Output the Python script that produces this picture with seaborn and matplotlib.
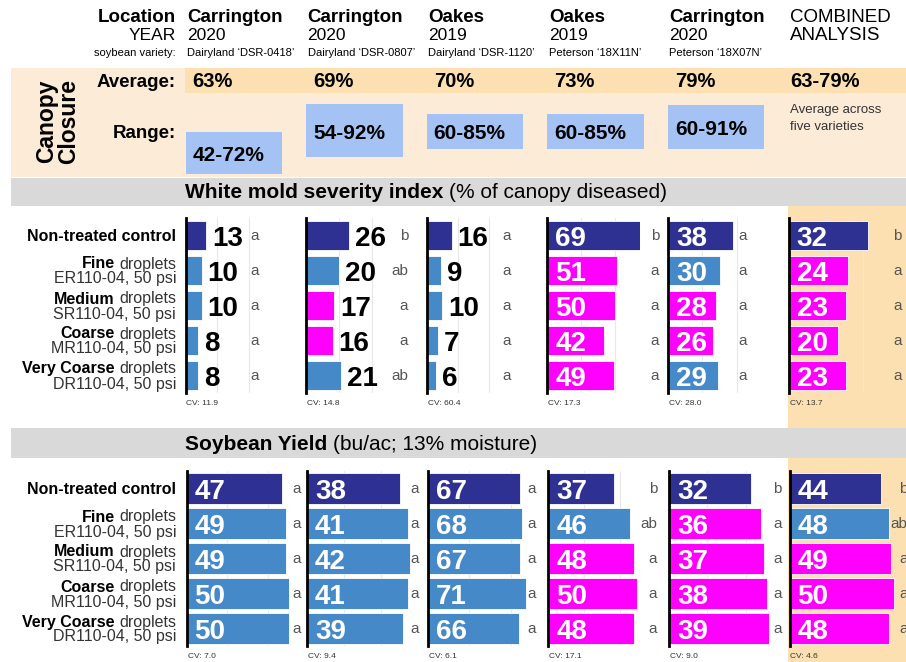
import matplotlib
matplotlib.use("Agg")
import matplotlib.pyplot as plt
import seaborn as sns
import pandas as pd
import numpy as np
from matplotlib.patches import Rectangle
from matplotlib.ticker import MaxNLocator

sns.set_theme(style="white")
plt.rcParams['font.family'] = ['Liberation Sans', 'DejaVu Sans']
plt.rcParams['text.color'] = 'black'

W, H = 906, 662

# ---------------- data ----------------
locations = ["Carrington", "Carrington", "Oakes", "Oakes", "Carrington"]
years = ["2020", "2020", "2019", "2019", "2020"]
varieties = ["Dairyland \u2018DSR-0418\u2019", "Dairyland \u2018DSR-0807\u2019",
             "Dairyland \u2018DSR-1120\u2019", "Peterson \u201818X11N\u2019",
             "Peterson \u201818X07N\u2019"]
canopy_avg = [63, 69, 70, 73, 79]
canopy_lo = [42, 54, 60, 60, 60]
canopy_hi = [72, 92, 85, 85, 91]
combined_canopy = "63-79%"

treat_main = ["Non-treated control", "Fine", "Medium", "Coarse", "Very Coarse"]
treat_nozzle = ["", "ER110-04, 50 psi", "SR110-04, 50 psi", "MR110-04, 50 psi", "DR110-04, 50 psi"]

# white mold severity index (6 panels: 5 sites + combined)
mold_values = [[13, 10, 10, 8, 8], [26, 20, 17, 16, 21], [16, 9, 10, 7, 6],
               [69, 51, 50, 42, 49], [38, 30, 28, 26, 29], [32, 24, 23, 20, 23]]
mold_letters = [["a", "a", "a", "a", "a"], ["b", "ab", "a", "a", "ab"], ["a", "a", "a", "a", "a"],
                ["b", "a", "a", "a", "a"], ["a", "a", "a", "a", "a"], ["b", "a", "a", "a", "a"]]
mold_colors = [["N", "B", "B", "B", "B"], ["N", "B", "M", "M", "B"], ["N", "B", "B", "B", "B"],
               ["N", "M", "M", "M", "M"], ["N", "B", "M", "M", "B"], ["N", "M", "M", "M", "M"]]
mold_cv = ["11.9", "14.8", "60.4", "17.3", "28.0", "13.7"]

# soybean yield
yield_values = [[47, 49, 49, 50, 50], [38, 41, 42, 41, 39], [67, 68, 67, 71, 66],
                [37, 46, 48, 50, 48], [32, 36, 37, 38, 39], [44, 48, 49, 50, 48]]
yield_letters = [["a", "a", "a", "a", "a"], ["a", "a", "a", "a", "a"], ["a", "a", "a", "a", "a"],
                 ["b", "ab", "a", "a", "a"], ["b", "a", "a", "a", "a"], ["b", "ab", "a", "a", "a"]]
yield_colors = [["N", "B", "B", "B", "B"], ["N", "B", "B", "B", "B"], ["N", "B", "B", "B", "B"],
                ["N", "B", "M", "M", "M"], ["N", "M", "M", "M", "M"], ["N", "B", "M", "M", "M"]]
yield_cv = ["7.0", "9.4", "6.1", "17.1", "9.0", "4.6"]

# ---------------- style / layout ----------------
color_map = {"N": "#2E3192", "B": "#4589C8", "M": "#FF00FF"}
BEIGE = "#FCEBD6"
ORANGE = "#FCE0B2"
GRAY = "#D9D9D9"
RANGE_BLUE = "#A4C2F4"
TXT_GRAY = "#333333"

COL0, COLW = 185.5, 120.6
mold_scale = [1.6, 1.65, 1.56, 1.36, 1.72, 2.48]
yield_scale = [2.04, 2.45, 1.38, 1.78, 2.57, 2.08]
mold_inside = [False, False, False, True, True, True]
mold_let_off = [73, 102, 84, 112, 79, 113]
yield_let_off = [114, 112, 108, 109, 113, 118]

fig = plt.figure(figsize=(W / 100, H / 100), dpi=100)
fig.patch.set_facecolor("white")
bg = fig.add_axes([0, 0, 1, 1])
bg.set_xlim(0, W)
bg.set_ylim(H, 0)
bg.axis("off")
renderer = fig.canvas.get_renderer()


def fig_rect(x0, y0, x1, y1):
    return [x0 / W, 1 - y1 / H, (x1 - x0) / W, (y1 - y0) / H]


def rect(x0, y0, x1, y1, c):
    bg.add_patch(Rectangle((x0, y0), x1 - x0, y1 - y0, facecolor=c, lw=0, zorder=0))


def colx(i):
    return COL0 + i * COLW


# backgrounds
rect(11, 68, W, 177, BEIGE)
rect(185, 68, W, 92.5, ORANGE)
rect(11, 178, W, 206, GRAY)
rect(788, 206, W, 428, ORANGE)
rect(788, 458, W, H, ORANGE)
rect(11, 428, W, 458, GRAY)

# header
bg.text(176, 22, "Location", ha="right", va="baseline", fontsize=13.5, weight="bold")
bg.text(176, 40, "YEAR", ha="right", va="baseline", fontsize=12.5)
bg.text(176, 56, "soybean variety:", ha="right", va="baseline", fontsize=8)
for i in range(5):
    x = colx(i) + 1.5
    bg.text(x, 22, locations[i], ha="left", va="baseline", fontsize=13.5, weight="bold")
    bg.text(x, 40, years[i], ha="left", va="baseline", fontsize=12.5)
    bg.text(x, 56, varieties[i], ha="left", va="baseline", fontsize=8)
bg.text(colx(5) + 1.5, 22, "COMBINED", ha="left", va="baseline", fontsize=13.5)
bg.text(colx(5) + 1.5, 40, "ANALYSIS", ha="left", va="baseline", fontsize=13.5)

# canopy closure
bg.text(58, 121, "Canopy\nClosure", rotation=90, ha="center", va="center",
        fontsize=16.5, weight="bold", linespacing=0.95, multialignment="center")
bg.text(176, 87, "Average:", ha="right", va="baseline", fontsize=13.5, weight="bold")
bg.text(176, 138, "Range:", ha="right", va="baseline", fontsize=13.5, weight="bold")
for i in range(5):
    bg.text(colx(i) + 7, 87, f"{canopy_avg[i]}%", ha="left", va="baseline",
            fontsize=14.5, weight="bold")
bg.text(colx(5) + 1.5, 87, combined_canopy, ha="left", va="baseline", fontsize=14.5, weight="bold")
bg.text(colx(5) + 1.5, 113, "Average across", ha="left", va="baseline", fontsize=9.5, color=TXT_GRAY)
bg.text(colx(5) + 1.5, 130, "five varieties", ha="left", va="baseline", fontsize=9.5, color=TXT_GRAY)

axc = fig.add_axes(fig_rect(COL0, 92.8, COL0 + 6 * COLW, 176.8))
lo = np.array(canopy_lo)
hi = np.array(canopy_hi)
axc.bar(np.arange(5), hi - lo, bottom=lo, width=0.8, align="edge", color=RANGE_BLUE, lw=0)
axc.set_xlim(0, 6)
axc.set_ylim(39.9, 100)
axc.axis("off")
for i in range(5):
    mid = (lo[i] + hi[i]) / 2
    axc.text(i + 7 / COLW, mid - 8 / 1.4, f"{lo[i]}-{hi[i]}%", ha="left", va="baseline",
             fontsize=15, weight="bold")


# section titles (bold + regular)
def title_mixed(x, y, bold, regular, size):
    t = bg.text(x, y, bold, ha="left", va="baseline", fontsize=size, weight="bold")
    w = t.get_window_extent(renderer).width
    bg.text(x + w + size * 100 / 72 * 0.278, y, regular, ha="left", va="baseline", fontsize=size)


title_mixed(185, 198, "White mold severity index", "(% of canopy diseased)", 15)
title_mixed(185, 450, "Soybean Yield", "(bu/ac; 13% moisture)", 15)


# row labels
def row_labels(y_top):
    for i in range(5):
        c = y_top + 17.5 + 35 * i
        if i == 0:
            bg.text(176, c + 5.7, treat_main[0], ha="right", va="baseline", fontsize=11.5, weight="bold")
        else:
            t = bg.text(176, c - 2, "droplets", ha="right", va="baseline", fontsize=11.5, color=TXT_GRAY)
            w = t.get_window_extent(renderer).width
            bg.text(176 - w - 11.5 * 100 / 72 * 0.278, c - 2, treat_main[i], ha="right",
                    va="baseline", fontsize=11.5, weight="bold")
            bg.text(176, c + 13, treat_nozzle[i], ha="right", va="baseline", fontsize=11.5, color=TXT_GRAY)


row_labels(218)
row_labels(471)


def draw_panel(x0, y0, width_px, vals, cols, lets, cv, scale, bar_w, inside, let_off):
    ax = fig.add_axes(fig_rect(x0, y0, x0 + width_px, y0 + 175))
    df = pd.DataFrame({"treatment": treat_main, "value": vals})
    pal = [color_map[c] for c in cols]
    sns.barplot(data=df, x="value", y="treatment", hue="treatment", palette=pal, orient="h",
                width=bar_w, saturation=1, legend=False, edgecolor="white", linewidth=0.6, ax=ax)
    ax.set_xlim(0, width_px / scale)
    ax.set_ylim(4.5, -0.5)
    for s in ["top", "right", "bottom"]:
        ax.spines[s].set_visible(False)
    ax.spines["left"].set_color("black")
    ax.spines["left"].set_linewidth(2)
    ax.patch.set_visible(False)
    ax.xaxis.set_major_locator(MaxNLocator(nbins=3))
    ax.grid(axis="x", color="#e8e8e8", lw=0.8)
    ax.grid(axis="y", visible=False)
    ax.set_axisbelow(True)
    ax.tick_params(left=False, bottom=False, labelleft=False, labelbottom=False)
    ax.set_xlabel("")
    ax.set_ylabel("")
    for i, v in enumerate(vals):
        if inside:
            ax.text(8 / scale, i + 0.29, str(v), color="white", ha="left", va="baseline",
                    fontsize=20, weight="bold")
        else:
            ax.text(v + 6 / scale, i + 0.29, str(v), color="black", ha="left", va="baseline",
                    fontsize=20, weight="bold")
        ax.text(let_off / scale, i + 0.14, lets[i], ha="right", va="baseline", fontsize=11,
                color="#555555", clip_on=False)
    ax.text(1 / scale, 4.5 + 12 / 35, f"CV: {cv}", ha="left", va="baseline", fontsize=6,
            color="#333333")
    return ax


for i in range(6):
    draw_panel(colx(i), 218, 93, mold_values[i], mold_colors[i], mold_letters[i], mold_cv[i],
               mold_scale[i], 0.83, mold_inside[i], mold_let_off[i])
    draw_panel(colx(i) + 1, 471, 105, yield_values[i], yield_colors[i], yield_letters[i],
               yield_cv[i], yield_scale[i], 0.88, True, yield_let_off[i])

fig.savefig("out.png", dpi=100, facecolor="white")
